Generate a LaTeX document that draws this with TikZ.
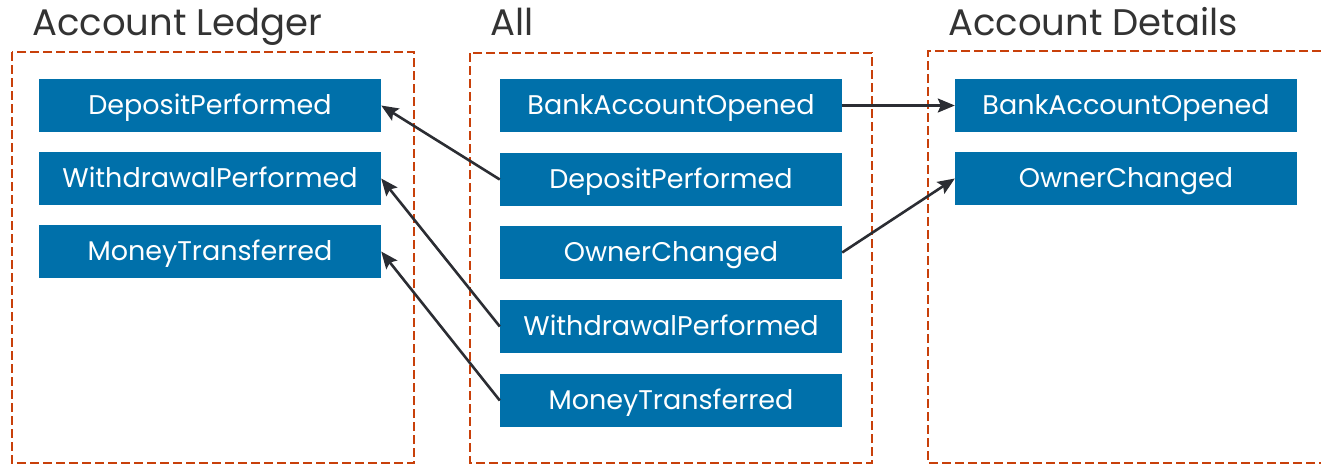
\documentclass[tikz,border=0pt]{standalone}
\usepackage{fontspec}
\setmainfont{Poppins}
\usetikzlibrary{arrows.meta}
\definecolor{evblue}{HTML}{0070AA}
\definecolor{dashred}{HTML}{C8400A}
\definecolor{arrowgray}{HTML}{2B2D33}
\definecolor{titlegray}{HTML}{333333}
\tikzset{
  evbox/.style={fill=evblue, text=white, minimum width=342pt, minimum height=53pt, inner sep=0pt, text height=21pt, text depth=3pt, font=\fontsize{27}{30}\selectfont},
  group/.style={draw=dashred, line width=2.8pt, dash pattern=on 9pt off 4pt},
  title/.style={anchor=base west, text=titlegray, inner sep=0pt, font=\fontsize{37}{42}\selectfont},
  flow/.style={draw=arrowgray, line width=2.6pt, -{Stealth[length=17pt,width=14pt,inset=3pt]}}
}
\begin{document}
\begin{tikzpicture}[x=1pt,y=-1pt]
\useasboundingbox (0,0) rectangle (1321,466);
% groups
\draw[group] (12,52) rectangle (414,463);
\draw[group] (470,53) rectangle (872,463);
\draw[group] (1321,51) -- (928,51) -- (928,463) -- (1321,463);
% titles
\node[title] (t1) at (32,35) {Account Ledger};
\node[title] (t2) at (490,35) {All};
\node[title] (t3) at (948,35) {Account Details};
% left
\node[evbox] (lDep) at (210,105.5) {DepositPerformed};
\node[evbox] (lWit) at (210,178.5) {WithdrawalPerformed};
\node[evbox] (lMon) at (210,251.5) {MoneyTransferred};
% middle
\node[evbox] (mBank) at (671,105.5) {BankAccountOpened};
\node[evbox] (mDep) at (671,179.5) {DepositPerformed};
\node[evbox] (mOwn) at (671,252.5) {OwnerChanged};
\node[evbox] (mWit) at (671,326.5) {WithdrawalPerformed};
\node[evbox] (mMon) at (671,400.5) {MoneyTransferred};
% right
\node[evbox] (rBank) at (1126,105.5) {BankAccountOpened};
\node[evbox] (rOwn) at (1126,178.5) {OwnerChanged};
% connectors
\draw[flow] (mDep.west) -- (lDep.east);
\draw[flow] (mWit.west) -- (lWit.east);
\draw[flow] (mMon.west) -- (lMon.east);
\draw[flow] (mBank.east) -- (rBank.west);
\draw[flow] (mOwn.east) -- (rOwn.west);
\end{tikzpicture}
\end{document}
